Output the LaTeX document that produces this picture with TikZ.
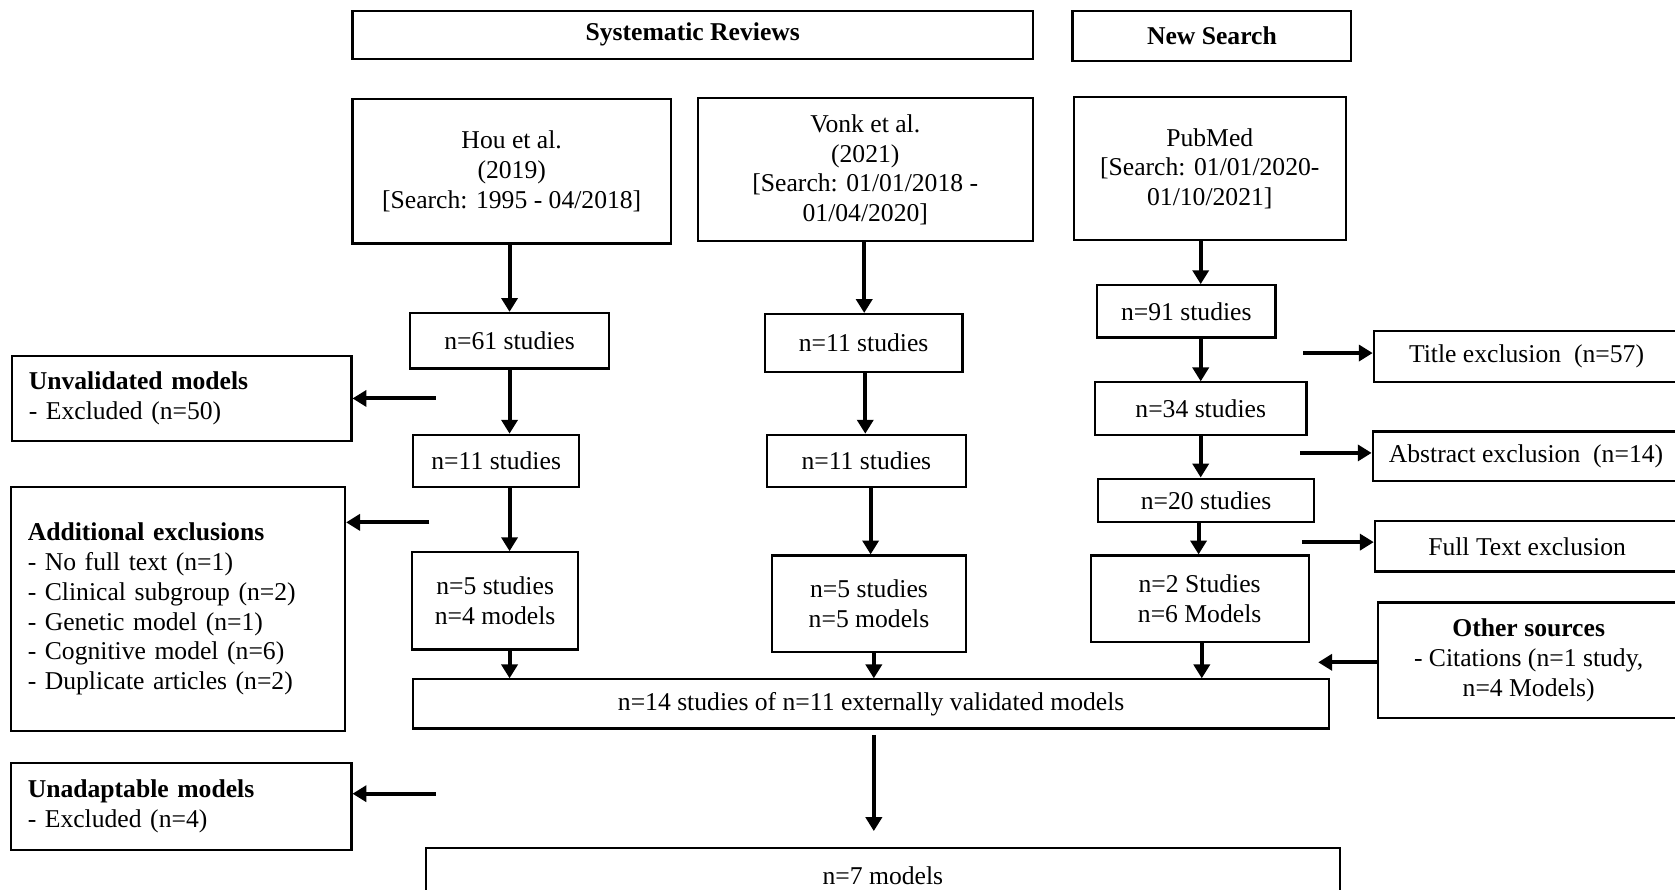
\documentclass[tikz,border=0pt]{standalone}
\usepackage{fontspec}
\setmainfont{Liberation Serif}
\usetikzlibrary{arrows.meta}
\begin{document}
\begin{tikzpicture}[x=0.5pt,y=-0.5pt,
  box/.style={draw, line width=1pt, inner sep=0pt, align=center,
    font=\fontsize{12}{14}\selectfont},
  lbox/.style={draw, line width=1pt, inner xsep=8pt, inner ysep=0pt, align=left,
    font=\fontsize{12}{14}\selectfont},
  arr/.style={line width=1.9pt, -{Triangle[width=7.5pt,length=6.5pt]}}]
\useasboundingbox (0,0) rectangle (1568,833);
% header boxes
\node[box, minimum width=318.5pt, minimum height=22.5pt, font=\fontsize{12}{14}\selectfont\bfseries] (sr) at (648.5,32.5) {Systematic Reviews};
\node[box, minimum width=130.5pt, minimum height=23.5pt, font=\fontsize{12}{14}\selectfont\bfseries] (ns) at (1134.5,33.5) {New Search};
% source boxes
\node[box, minimum width=149pt, minimum height=67.5pt] (hou) at (479,160.5) {Hou et al.\\(2019)\\{}[Search: 1995 - 04/2018]};
\node[box, minimum width=157pt, minimum height=67pt] (vonk) at (810,159) {Vonk et al.\\(2021)\\{}[Search: 01/01/2018 -\\01/04/2020]};
\node[box, minimum width=127.5pt, minimum height=67pt] (pub) at (1132.5,158) {PubMed\\{}[Search: 01/01/2020-\\01/10/2021]};
% Hou column
\node[box, minimum width=93pt, minimum height=26pt] (h61) at (477,319) {n=61 studies};
\node[box, minimum width=77.5pt, minimum height=24.5pt] (h11) at (464.5,431.5) {n=11 studies};
\node[box, minimum width=77.5pt, minimum height=45.5pt] (h5) at (463.5,562.5) {n=5 studies\\n=4 models};
% Vonk column
\node[box, minimum width=92.5pt, minimum height=27pt] (v11a) at (808.5,321) {n=11 studies};
\node[box, minimum width=93pt, minimum height=24.5pt] (v11b) at (811,431.5) {n=11 studies};
\node[box, minimum width=90.5pt, minimum height=45pt] (v5) at (813.5,565) {n=5 studies\\n=5 models};
% PubMed column
\node[box, minimum width=83.5pt, minimum height=24.5pt] (p91) at (1110.5,291.5) {n=91 studies};
\node[box, minimum width=99pt, minimum height=24.5pt] (p34) at (1124,382.5) {n=34 studies};
\node[box, minimum width=101pt, minimum height=20.5pt] (p20) at (1129,468.5) {n=20 studies};
\node[box, minimum width=102pt, minimum height=40.5pt] (p2) at (1123,560.5) {n=2 Studies\\n=6 Models};
% right exclusion boxes
\node[box, minimum width=143pt, minimum height=24pt] (title) at (1429,334) {Title exclusion\ \ (n=57)};
\node[box, minimum width=143.5pt, minimum height=23pt] (abs) at (1428.5,427) {Abstract exclusion\ \ (n=14)};
\node[box, minimum width=142.5pt, minimum height=23.5pt] (full) at (1429.5,511.5) {Full Text exclusion};
\node[box, minimum width=141pt, minimum height=54pt] (other) at (1431,618) {\textbf{Other sources}\\- Citations (n=1 study,\\n=4 Models)};
% left exclusion boxes
\node[lbox, text width=143pt, minimum height=40pt] (unval) at (170,373) {\textbf{Unvalidated models}\\- Excluded (n=50)};
\node[lbox, text width=140.5pt, minimum height=114pt] (addl) at (166.5,570) {\textbf{Additional exclusions}\\- No full text (n=1)\\- Clinical\ subgroup (n=2)\\- Genetic model (n=1)\\- Cognitive\ model (n=6)\\- Duplicate\ articles (n=2)};
\node[lbox, text width=143.5pt, minimum height=41pt] (unad) at (169.5,755) {\textbf{Unadaptable models}\\- Excluded (n=4)};
% merge boxes
\node[box, minimum width=428.5pt, minimum height=23pt] (n14) at (815.5,659) {n=14 studies of n=11 externally\ validated models};
\node[box, minimum width=427.5pt, minimum height=25.5pt] (n7) at (826.5,819.5) {n=7 models};
% arrow columns
\coordinate (xh) at (477,0);
\coordinate (xv1) at (809,0);
\coordinate (xv2) at (810,0);
\coordinate (xv3) at (815,0);
\coordinate (xv4) at (818,0);
\coordinate (xp1) at (1124,0);
\coordinate (xp2) at (1122,0);
\coordinate (xp3) at (1125,0);
% vertical arrows
\draw[arr] (hou.south -| xh) -- (h61.north -| xh);
\draw[arr] (h61.south -| xh) -- (h11.north -| xh);
\draw[arr] (h11.south -| xh) -- (h5.north -| xh);
\draw[arr] (h5.south -| xh) -- (n14.north -| xh);
\draw[arr] (vonk.south -| xv1) -- (v11a.north -| xv1);
\draw[arr] (v11a.south -| xv2) -- (v11b.north -| xv2);
\draw[arr] (v11b.south -| xv3) -- (v5.north -| xv3);
\draw[arr] (v5.south -| xv4) -- (n14.north -| xv4);
\draw[arr] (pub.south -| xp1) -- (p91.north -| xp1);
\draw[arr] (p91.south -| xp1) -- (p34.north -| xp1);
\draw[arr] (p34.south -| xp1) -- (p20.north -| xp1);
\draw[arr] (p20.south -| xp2) -- (p2.north -| xp2);
\draw[arr] (p2.south -| xp3) -- (n14.north -| xp3);
\coordinate (bigstart) at (818,688);
\coordinate (bigend) at (818,778);
\draw[arr] (bigstart) -- (bigend);
% horizontal arrows
\coordinate (u0) at (408,373);
\coordinate (a0) at (402,489);
\coordinate (d0) at (408,743);
\draw[arr] (u0) -- (u0 -| unval.east);
\draw[arr] (a0) -- (a0 -| addl.east);
\draw[arr] (d0) -- (d0 -| unad.east);
\coordinate (t0) at (1220,330.5);
\coordinate (b0) at (1217,424);
\coordinate (f0) at (1219,507.5);
\coordinate (o0) at (1234,620);
\draw[arr] (t0) -- (t0 -| title.west);
\draw[arr] (b0) -- (b0 -| abs.west);
\draw[arr] (f0) -- (f0 -| full.west);
\draw[arr] (o0 -| other.west) -- (o0);
\end{tikzpicture}
\end{document}
